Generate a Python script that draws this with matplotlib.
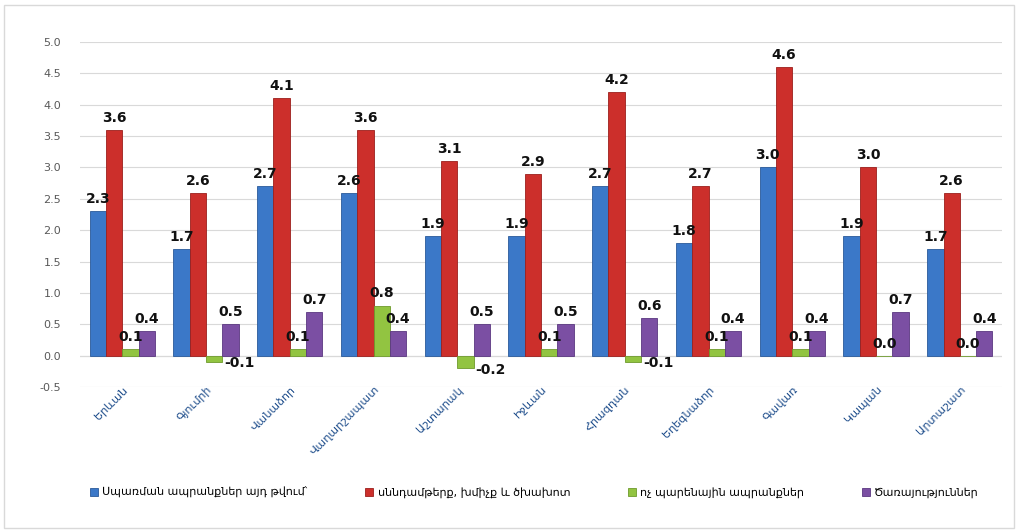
import numpy as np
import matplotlib.pyplot as plt
from matplotlib.patches import Rectangle

plt.rcParams['font.family'] = ['DejaVu Sans']

regions = ['Երևան', 'Գյումրի', 'Վանաձոր', 'Վաղարշապատ', 'Աշտարակ', 'Իջևան',
           'Հրազդան', 'Եղեգնաձոր', 'Գավառ', 'Կապան', 'Արտաշատ']
series_names = ['Սպառման ապրանքներ այդ թվում՝', 'սննդամթերք, խմիչք և ծխախոտ',
                'ոչ պարենային ապրանքներ', 'Ծառայություններ']
consumer = [2.3, 1.7, 2.7, 2.6, 1.9, 1.9, 2.7, 1.8, 3.0, 1.9, 1.7]
food = [3.6, 2.6, 4.1, 3.6, 3.1, 2.9, 4.2, 2.7, 4.6, 3.0, 2.6]
nonfood = [0.1, -0.1, 0.1, 0.8, -0.2, 0.1, -0.1, 0.1, 0.1, 0.0, 0.0]
services = [0.4, 0.5, 0.7, 0.4, 0.5, 0.5, 0.6, 0.4, 0.4, 0.7, 0.4]
yticks = [-0.5, 0.0, 0.5, 1.0, 1.5, 2.0, 2.5, 3.0, 3.5, 4.0, 4.5, 5.0]

colors = ['#3b78c8', '#cc2f2b', '#92c441', '#7b4fa3']
edges = ['#2a5a9a', '#9c1f1c', '#6e9a2c', '#5a3780']

fig = plt.figure(figsize=(10.18, 5.31), dpi=100)
fig.patches.append(Rectangle((0.004, 0.006), 0.992, 0.985, transform=fig.transFigure,
                             fill=False, edgecolor='#d9d9d9', lw=1))
ax = fig.add_axes([0.079, 0.271, 0.905, 0.65])

x = np.arange(len(regions))
w = 0.195
data = [consumer, food, nonfood, services]
for i, vals in enumerate(data):
    pos = x + (i - 1.5) * w
    ax.bar(pos, vals, w, color=colors[i], edgecolor=edges[i], lw=0.6,
           label=series_names[i], zorder=3)
    for px, v in zip(pos, vals):
        if v >= 0:
            ax.text(px, v + 0.08, f'{v:.1f}', ha='center', va='bottom',
                    fontsize=10, fontweight='bold', color='#111111', zorder=5)
        else:
            ax.text(px + 0.12, v - 0.02, f'{v:.1f}', ha='left', va='center',
                    fontsize=10, fontweight='bold', color='#111111', zorder=5)

ax.set_xlim(-0.5, len(regions) - 0.5)
ax.set_ylim(-0.5, 5.0)
ax.set_yticks(yticks)
ax.set_yticklabels([f'{t:.1f}' for t in yticks], fontsize=8, color='#595959')
ax.grid(axis='y', color='#d9d9d9', lw=0.8, zorder=0)
ax.axhline(0, color='#bfbfbf', lw=0.8, zorder=1)
ax.set_xticks(x)
ax.set_xticklabels(regions, rotation=45, ha='right', rotation_mode='anchor',
                   fontsize=8, color='#1f4e8c')
ax.tick_params(axis='x', length=0, pad=-2)
ax.tick_params(axis='y', length=0, pad=14)
for s in ax.spines.values():
    s.set_visible(False)

fig.legend(loc='center', bbox_to_anchor=(0.525, 0.072), ncol=4, frameon=False,
           fontsize=8, handlelength=0.7, handleheight=0.7, handletextpad=0.4,
           columnspacing=5.2)

plt.savefig('out.png', dpi=100)
